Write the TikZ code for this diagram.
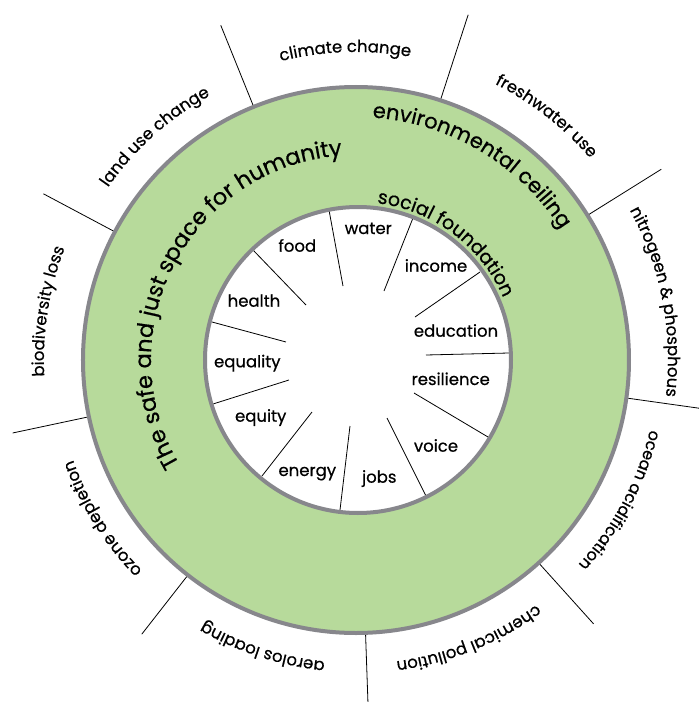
\documentclass[tikz,border=0pt]{standalone}
\usepackage{fontspec}
\setmainfont{Poppins}[FakeBold=0.6]
\usetikzlibrary{decorations.text, calc}
\definecolor{ringgreen}{RGB}{183,218,155}
\definecolor{ringgray}{RGB}{135,135,140}
\tikzset{
  spoke/.style={black, line width=0.8pt},
  social/.style={anchor=base, inner sep=0pt, font=\fontsize{16.5}{18}\selectfont},
}
\newcommand{\arctext}[5]{% center, angle, radius, size, text
  \path[decorate, decoration={text along path, text align=center,
    text={|\fontsize{#4}{#4}\selectfont|#5}}]
    ($(#1)+(#2+80:#3)$) arc[start angle=#2+80, end angle=#2-80, radius=#3];
}
\begin{document}
\begin{tikzpicture}[x=1pt,y=1pt]
\useasboundingbox (-356,-342) rectangle (343,360);
\coordinate (c) at (0,0);
\coordinate (ci) at (2,0);
% boundary spokes
\foreach \a/\r in {32/360,72/363,112/361,152/354,192/351,232/348,272/345,312/355,352/350}
  \draw[spoke] ($(c)+(\a:272)$) -- ($(c)+(\a:\r)$);
\fill[ringgreen, draw=ringgray, line width=4pt] (c) circle[radius=273];
\fill[white] (ci) circle[radius=153];
% social spokes
\foreach \ox/\oy/\ix/\iy in {-27/150/-13/74, 57/142/28/69, 124/88/59/43, 153/7/70/5,
  132/-77/58/-33, 70/-136/31/-58, -16/-150/-6/-66, -94/-116/-44/-52,
  -143/-44/-67/-20, -144/38/-70/18, -103/110/-50/55}
  \draw[spoke] (\ox,\oy) -- (\ix,\iy);
\draw[ringgray, line width=4pt] (ci) circle[radius=153];
% social labels
\node[social] (food) at (-58.7,108.3) {food};
\node[social] (water) at (12.3,126) {water};
\node[social] (income) at (80,88.3) {income};
\node[social] (education) at (100,23.3) {education};
\node[social] (resilience) at (94.7,-25) {resilience};
\node[social] (voice) at (80,-91.7) {voice};
\node[social] (jobs) at (23.3,-122.7) {jobs};
\node[social] (energy) at (-48.7,-116) {energy};
\node[social] (equity) at (-95.3,-61.7) {equity};
\node[social] (equality) at (-108.7,-7.3) {equality};
\node[social] (health) at (-102,53.3) {health};
% planetary boundary labels
\arctext{c}{92}{308}{16.5}{climate change}
\arctext{c}{52}{309}{16.5}{freshwater use}
\arctext{c}{11}{312}{16.5}{nitrogeen {\&} phosphous}
\arctext{c}{332}{302}{16}{ocean acidification}
\arctext{c}{292}{304}{16.5}{chemical pollution}
\arctext{c}{252}{303}{16.5}{aerolos loading}
\arctext{c}{212}{300}{16.5}{ozone depletion}
\arctext{c}{171}{312}{16.5}{biodiversity loss}
\arctext{c}{132}{302}{16.5}{land use change}
% ring titles
\arctext{c}{59.3}{243}{21}{environmental ceiling}
\arctext{ci}{53.1}{158}{19}{social foundation}
\arctext{c}{152.2}{205}{22.5}{The safe and just space for humanity}
\end{tikzpicture}
\end{document}
